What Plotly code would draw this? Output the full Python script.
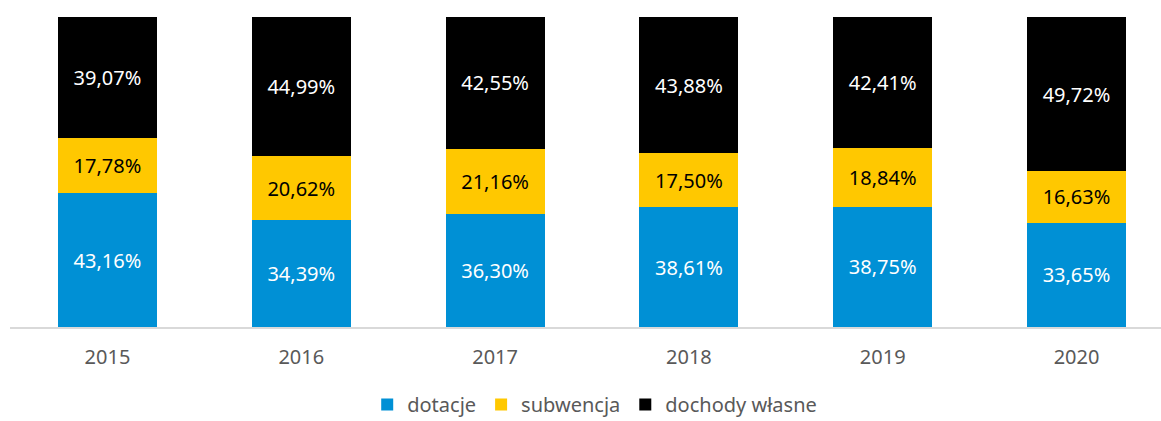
import plotly.graph_objects as go

years = ["2015", "2016", "2017", "2018", "2019", "2020"]
dotacje = [43.16, 34.39, 36.30, 38.61, 38.75, 33.65]
subwencja = [17.78, 20.62, 21.16, 17.50, 18.84, 16.63]
dochody = [39.07, 44.99, 42.55, 43.88, 42.41, 49.72]

def fmt(v):
    return [f"{x:.2f}".replace(".", ",") + "%" for x in v]

font = "Noto Sans"
fig = go.Figure()
series = [
    ("dotacje", dotacje, "#0090D5", "white"),
    ("subwencja", subwencja, "#FFC800", "black"),
    ("dochody własne", dochody, "#000000", "white"),
]
for name, vals, col, tcol in series:
    fig.add_trace(go.Bar(
        x=years, y=vals, name=name, marker_color=col,
        marker_line_width=0, width=0.51,
        text=fmt(vals), textposition="inside", insidetextanchor="middle",
        textfont=dict(color=tcol, size=20, family=font),
        hoverinfo="skip",
    ))

fig.update_layout(
    barmode="stack",
    width=1161, height=421,
    margin=dict(l=10, r=0, t=17, b=94, autoexpand=False),
    plot_bgcolor="white", paper_bgcolor="white",
    showlegend=True,
    uniformtext=dict(minsize=20, mode="show"),
    legend=dict(orientation="h", x=0.508, xanchor="center", y=-0.25, yanchor="middle",
                font=dict(size=20, family=font, color="#595959"), traceorder="normal",
                itemwidth=30),
    xaxis=dict(range=[-0.503, 5.436], showline=True, linecolor="#D9D9D9", linewidth=1.5,
               tickfont=dict(size=20, family=font, color="#595959"), ticks="",
               ticklabelstandoff=11, showgrid=False),
    yaxis=dict(range=[0, 100], visible=False, showgrid=False),
)
fig.write_html("out.html", config={"displayModeBar": False},
               post_script="document.body.style.margin='0';")
